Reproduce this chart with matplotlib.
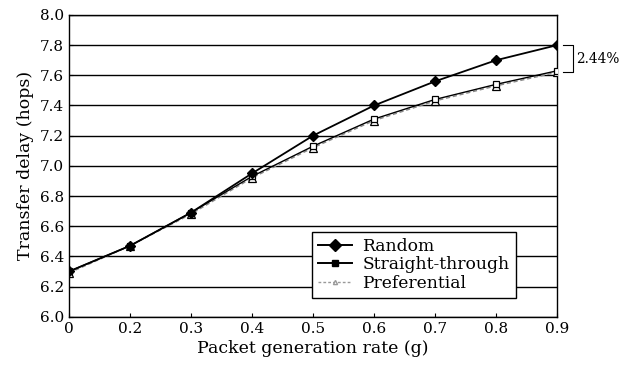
import matplotlib
matplotlib.use("Agg")
import matplotlib.pyplot as plt
from matplotlib.lines import Line2D

x_labels = ["0", "0.2", "0.3", "0.4", "0.5", "0.6", "0.7", "0.8", "0.9"]
random_vals = [6.30, 6.47, 6.69, 6.95, 7.20, 7.40, 7.56, 7.70, 7.80]
straight_vals = [6.30, 6.47, 6.69, 6.93, 7.13, 7.31, 7.44, 7.54, 7.63]
pref_vals = [6.29, 6.47, 6.68, 6.92, 7.12, 7.30, 7.43, 7.53, 7.62]
y_ticks = [6.0, 6.2, 6.4, 6.6, 6.8, 7.0, 7.2, 7.4, 7.6, 7.8, 8.0]

plt.rcParams['font.family'] = ['DejaVu Serif']

fig = plt.figure(figsize=(6.22, 3.72), dpi=100)
ax = fig.add_axes([0.111, 0.1487, 0.7845, 0.811])
xs = list(range(len(x_labels)))

for t in y_ticks:
    ax.axhline(t, color='black', lw=1.0, zorder=1)

ax.plot(xs, pref_vals, color='#888888', lw=1.0, ls=(0, (3, 2)), marker='^',
        ms=6, mfc='white', mec='black', mew=0.9, zorder=3)
ax.plot(xs, straight_vals, color='black', lw=1.0, marker='s', ms=4,
        mfc='white', mec='black', mew=0.9, zorder=3)
ax.plot(xs, random_vals, color='black', lw=1.3, marker='D', ms=5.5,
        mfc='black', mec='black', zorder=4)

ax.set_xlim(0, len(x_labels) - 1)
ax.set_ylim(6.0, 8.0)
ax.set_xticks(xs)
ax.set_xticklabels(x_labels)
ax.set_yticks(y_ticks)
ax.set_yticklabels([f"{t:.1f}" for t in y_ticks])
ax.tick_params(axis='both', labelsize=11, direction='in', length=3)
ax.set_xlabel("Packet generation rate (g)", fontsize=12.5, labelpad=3)
ax.set_ylabel("Transfer delay (hops)", fontsize=12.5, labelpad=4)
for s in ax.spines.values():
    s.set_color('black')
    s.set_linewidth(1.0)

handles = [
    Line2D([], [], color='black', lw=1.4, marker='D', ms=6, mfc='black'),
    Line2D([], [], color='black', lw=1.4, marker='s', ms=5, mfc='black'),
    Line2D([], [], color='#999999', lw=1.0, ls=(0, (2, 1.5)), marker='^', ms=3,
           mfc='white', mec='#999999'),
]
leg = ax.legend(handles, ['Random', 'Straight-through', 'Preferential'],
                loc='lower left', bbox_to_anchor=(0.498, 0.062), fontsize=12.3,
                frameon=True, fancybox=False, edgecolor='black', framealpha=1,
                handlelength=2.0, handletextpad=0.6, borderpad=0.35,
                labelspacing=0.1, borderaxespad=0)
leg.get_frame().set_linewidth(1.0)

# bracket annotation
last = len(x_labels) - 1
top, bot = random_vals[-1], pref_vals[-1]
ax.plot([last + 0.1, last + 0.26, last + 0.26, last + 0.1], [top, top, bot, bot],
        color='black', lw=0.8, clip_on=False)
ax.text(last + 0.31, (top + bot) / 2, "2.44%", fontsize=9.8,
        va='center', ha='left', clip_on=False)

fig.savefig("out.png", dpi=100)
